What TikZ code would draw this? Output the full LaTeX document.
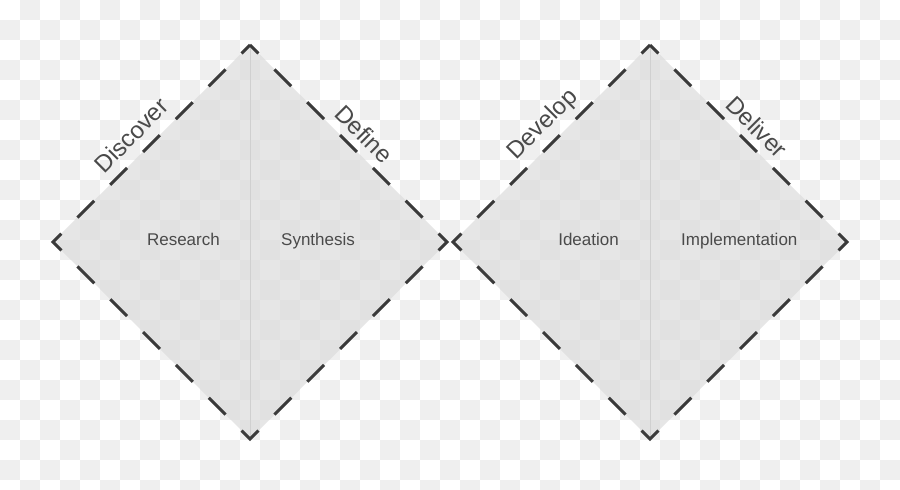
\documentclass[tikz,border=0pt]{standalone}
\usepackage{fontspec}
\setmainfont{Liberation Sans}
\definecolor{checkgrey}{HTML}{EFEFEF}
\definecolor{rim}{HTML}{3A3A3A}
\definecolor{lozenge}{HTML}{E6E6E6}
\definecolor{lozengetile}{HTML}{E1E1E1}
\definecolor{split}{HTML}{D0D0D0}
\definecolor{ink}{HTML}{4A4A4A}
\tikzset{
  phase/.style={font=\fontsize{24}{24}\selectfont,text=ink,inner sep=0pt},
  task/.style={font=\fontsize{17}{17}\selectfont,text=ink,inner sep=0pt},
  border/.style={draw=rim,line width=3pt,dash pattern=on 23.8pt off 22.63pt,dash phase=11.9pt}
}
\newcommand\checkers[1]{%
  \foreach \i in {0,...,44}
    \foreach \j in {0,...,24}{
      \pgfmathtruncatemacro{\tileodd}{mod(\i+\j,2)}
      \ifnum\tileodd=1 \fill[fill=#1] (20*\i,490-20*\j) rectangle ++(20,-20); \fi
    }}
\begin{document}
\begin{tikzpicture}[x=1pt,y=1pt]
  \useasboundingbox (0,0) rectangle (900,490);
  % transparency tiles
  \fill[fill=white] (0,0) rectangle (900,490);
  \checkers{checkgrey}
  % corners of the two diamonds
  \coordinate (t1) at (250,445); \coordinate (r1) at (447,248);
  \coordinate (b1) at (250,51);  \coordinate (l1) at (53,248);
  \coordinate (t2) at (650,445); \coordinate (r2) at (847,248);
  \coordinate (b2) at (650,51);  \coordinate (l2) at (453,248);
  \fill[fill=lozenge] (t1) -- (r1) -- (b1) -- (l1) -- cycle;
  \fill[fill=lozenge] (t2) -- (r2) -- (b2) -- (l2) -- cycle;
  \begin{scope}
    \clip (t1) -- (r1) -- (b1) -- (l1) -- cycle (t2) -- (r2) -- (b2) -- (l2) -- cycle;
    \checkers{lozengetile}
  \end{scope}
  \draw[draw=split] (t1) -- (b1) (t2) -- (b2);
  \draw[border] (t1) -- (r1) -- (b1) -- (l1) -- cycle;
  \draw[border] (t2) -- (r2) -- (b2) -- (l2) -- cycle;
  % phases along the edges
  \node[phase,rotate=45] (discover) at (131,355) {Discover};
  \node[phase,rotate=-45] (define) at (364,356) {Define};
  \node[phase,rotate=45] (develop) at (543,365) {Develop};
  \node[phase,rotate=-45] (deliver) at (757,363) {Deliver};
  % activities inside
  \node[task,anchor=base east] (research) at (220,244) {Research};
  \node[task,anchor=base west] (synthesis) at (281,244) {Synthesis};
  \node[task,anchor=base east] (ideation) at (619,244) {Ideation};
  \node[task,anchor=base west] (implementation) at (681,244) {Implementation};
\end{tikzpicture}
\end{document}
